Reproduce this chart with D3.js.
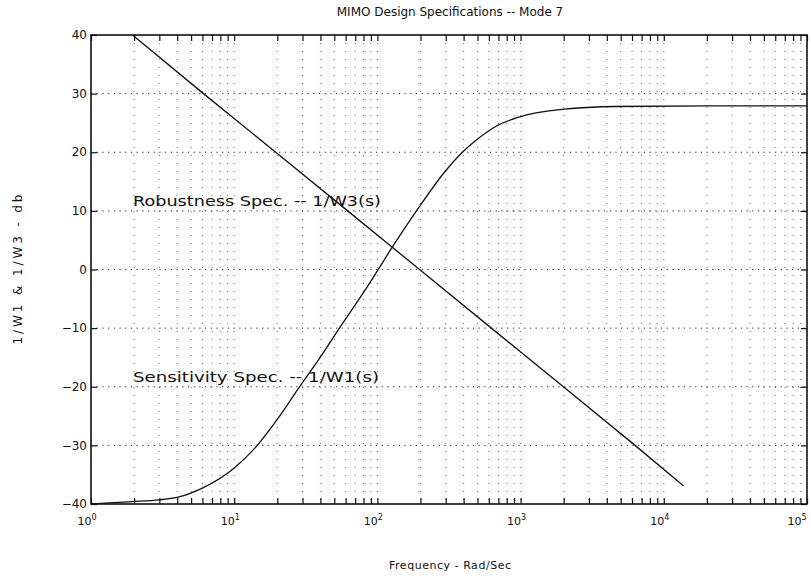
<!DOCTYPE html>
<html>
<head>
<meta charset="utf-8">
<script src="https://cdn.jsdelivr.net/npm/d3@7"></script>
<style>
  body { margin: 0; background: #fff; }
  text { font-family: "DejaVu Sans", sans-serif; fill: #111; }
</style>
</head>
<body>
<svg id="chart" width="811" height="579"></svg>
<script>
// Robustness spec 1/W3(s): frequency (rad/s) and magnitude (dB)
const robustFreq = [1.95, 6.1, 19.5, 62, 197, 625, 1990, 6300, 13700];
const robustDb   = [40, 30, 20, 10, 0, -10, -20, -30, -36.9];

// Sensitivity spec 1/W1(s)
const sensFreq = [1, 1.94, 2.98, 4.12, 5.99, 9.97, 14.5, 20.5, 28.4, 39.1, 54, 87.4,
                  127, 190, 292, 392, 486, 670, 975, 1955, 4617, 20000, 100000];
const sensDb   = [-40, -39.6, -39.3, -38.8, -37.3, -33.9, -30.0, -25.2, -20.1, -15.3, -10.1, -2.5,
                  3.8, 10.2, 16.5, 20.0, 22.0, 24.4, 26.0, 27.3, 27.8, 27.9, 27.9];

// Axis ticks
const yTickValues = [-40, -30, -20, -10, 0, 10, 20, 30, 40];
const yTickLabels = ["\u221240", "\u221230", "\u221220", "\u221210", "0", "10", "20", "30", "40"];
const xDecadeExponents = ["0", "1", "2", "3", "4", "5"];

const titleText  = "MIMO Design Specifications -- Mode 7";
const xLabelText = "Frequency - Rad/Sec";
const yLabelText = "1/W1 & 1/W3 - db";
const robustLabel = "Robustness Spec. -- 1/W3(s)";
const sensLabel   = "Sensitivity Spec. -- 1/W1(s)";

const svg = d3.select("#chart");
const plotL = 91, plotR = 807, plotT = 35, plotB = 504;

const x = d3.scaleLog().domain([1, 1e5]).range([plotL, plotR]);
const y = d3.scaleLinear().domain([-40, 40]).range([plotB, plotT]);

// every 1..9 × 10^k position inside the axis
const logTicks = [];
for (let k = 0; k < 5; k++) for (let m = 1; m <= 9; m++) logTicks.push(m * Math.pow(10, k));
logTicks.push(1e5);
const decades = logTicks.filter(v => Math.abs(Math.log10(v) - Math.round(Math.log10(v))) < 1e-9);

const grid = svg.append("g").attr("stroke", "#222").attr("fill", "none");
// vertical dotted grid
grid.selectAll("line.v").data(logTicks.filter(v => v > 1 && v < 1e5)).join("line")
  .attr("class", "v")
  .attr("x1", d => x(d)).attr("x2", d => x(d))
  .attr("y1", plotT).attr("y2", plotB)
  .attr("stroke-width", 0.9).attr("stroke-dasharray", "1,7").attr("opacity", 0.75);
// horizontal dotted grid
grid.selectAll("line.h").data(yTickValues.filter(v => v > -40 && v < 40)).join("line")
  .attr("class", "h")
  .attr("x1", plotL).attr("x2", plotR)
  .attr("y1", d => y(d)).attr("y2", d => y(d))
  .attr("stroke-width", 1).attr("stroke-dasharray", "1.2,4.5");

// axes with inward ticks
const axB = d3.axisBottom(x).tickValues(logTicks).tickSize(-6).tickFormat("");
const axT = d3.axisTop(x).tickValues(logTicks).tickSize(-6).tickFormat("");
const axL = d3.axisLeft(y).tickValues(yTickValues).tickSize(-6).tickFormat("");
const axR = d3.axisRight(y).tickValues(yTickValues).tickSize(-6).tickFormat("");
[[axB, `translate(0,${plotB})`], [axT, `translate(0,${plotT})`],
 [axL, `translate(${plotL},0)`], [axR, `translate(${plotR},0)`]].forEach(([a, t]) => {
  const g = svg.append("g").attr("transform", t).call(a);
  g.select(".domain").remove();
  g.selectAll("line").attr("stroke", "#111").attr("stroke-width", 1.2);
});

// frame
svg.append("rect").attr("x", plotL).attr("y", plotT)
  .attr("width", plotR - plotL).attr("height", plotB - plotT)
  .attr("fill", "none").attr("stroke", "#111").attr("stroke-width", 1.6);

// y tick labels
svg.append("g").selectAll("text").data(yTickValues).join("text")
  .attr("x", plotL - 4).attr("y", d => y(d)).attr("dy", "0.35em")
  .attr("text-anchor", "end").attr("font-size", 12)
  .text((d, i) => yTickLabels[i]);

// x tick labels: 10 with superscript exponent
const xl = svg.append("g").selectAll("text").data(decades).join("text")
  .attr("x", d => Math.min(x(d) - 4, 797)).attr("y", plotB + 21)
  .attr("text-anchor", "middle").attr("font-size", 11);
xl.append("tspan").text("10");
xl.append("tspan").attr("dy", -5).attr("font-size", 8).text((d, i) => xDecadeExponents[i]);

// curves
const line = d3.line().x(d => x(d[0])).y(d => y(d[1]));
const smooth = d3.line().x(d => x(d[0])).y(d => y(d[1])).curve(d3.curveMonotoneX);
svg.append("path").datum(robustFreq.map((f, i) => [f, robustDb[i]]))
  .attr("d", line).attr("fill", "none").attr("stroke", "#111").attr("stroke-width", 1.3);
svg.append("path").datum(sensFreq.map((f, i) => [f, sensDb[i]]))
  .attr("d", smooth).attr("fill", "none").attr("stroke", "#111").attr("stroke-width", 1.3);

// annotations
svg.append("text").attr("x", 133).attr("y", 206).attr("font-size", 14)
  .attr("textLength", 248).attr("lengthAdjust", "spacingAndGlyphs").text(robustLabel);
svg.append("text").attr("x", 133).attr("y", 382).attr("font-size", 14)
  .attr("textLength", 246).attr("lengthAdjust", "spacingAndGlyphs").text(sensLabel);

// title and axis labels
svg.append("text").attr("x", 450).attr("y", 16).attr("text-anchor", "middle")
  .attr("font-size", 12).text(titleText);
svg.append("text").attr("x", 450).attr("y", 569).attr("text-anchor", "middle")
  .attr("font-size", 11).attr("textLength", 122).attr("lengthAdjust", "spacing").text(xLabelText);
svg.append("text").attr("transform", `translate(22,${(plotT + plotB) / 2}) rotate(-90)`)
  .attr("text-anchor", "middle").attr("font-size", 12)
  .attr("textLength", 150).attr("lengthAdjust", "spacing").text(yLabelText);
</script>
</body>
</html>
